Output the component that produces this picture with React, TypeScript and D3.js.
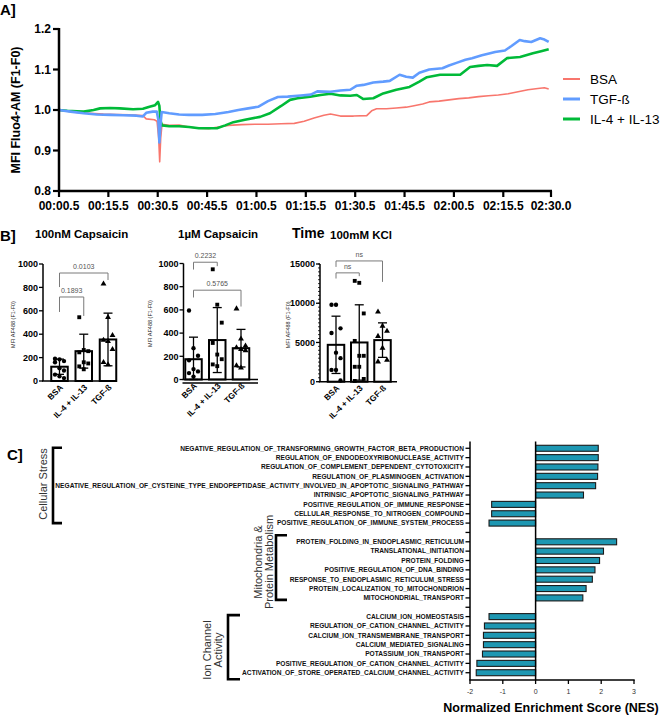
import React from "react";
import * as d3 from "d3";

const FONT = "'Liberation Sans', Arial, Helvetica, sans-serif";

// ---------- Panel A: Fluo4-AM calcium traces (time in s, normalised MFI) ----------
const bsaTrace: [number, number][] = [
  [0.5, 1.0], [3, 0.997], [6, 0.994], [10, 0.992], [14, 0.99], [18, 0.989], [22, 0.988],
  [26, 0.986], [27, 0.978], [29.5, 0.976], [30.3, 0.972], [30.8, 0.93], [31.1, 0.872],
  [31.4, 0.93], [31.8, 0.965], [34, 0.962], [37, 0.963], [40, 0.958], [43, 0.955],
  [46, 0.954], [49, 0.958], [52, 0.962], [56, 0.964], [60, 0.965], [64, 0.965],
  [68, 0.966], [72, 0.967], [75, 0.972], [78, 0.98], [81, 0.987], [83, 0.99], [86, 0.985],
  [90, 0.985], [94, 0.986], [95.5, 0.998], [97, 1.003], [100, 1.003], [103, 1.005],
  [106, 1.007], [108, 1.01], [111, 1.015], [113, 1.02], [116, 1.022], [119, 1.025],
  [122, 1.028], [125, 1.03], [128, 1.033], [131, 1.035], [134, 1.037], [137, 1.04],
  [140, 1.045], [143, 1.05], [146, 1.053], [148, 1.055], [149.3, 1.052],
];
const tgfTrace: [number, number][] = [
  [0.5, 1.0], [4, 0.996], [8, 0.992], [12, 0.989], [16, 0.988], [20, 0.987], [24, 0.986],
  [26, 0.984], [27, 0.993], [29, 0.996], [30.2, 0.996], [30.7, 0.975], [31, 0.92],
  [31.3, 0.96], [31.7, 0.995], [34, 0.992], [37, 0.989], [40, 0.988], [44, 0.988],
  [48, 0.99], [52, 0.995], [55, 1.0], [58, 1.004], [61, 1.008], [64, 1.022], [67, 1.032],
  [70, 1.033], [74, 1.036], [77, 1.038], [79, 1.046], [83, 1.045], [86, 1.048], [89, 1.05],
  [91, 1.06], [93, 1.062], [96, 1.068], [99, 1.07], [101, 1.072], [104, 1.087], [106, 1.082],
  [108, 1.08], [110, 1.092], [113, 1.1], [117, 1.103], [119, 1.11], [121.5, 1.117],
  [124, 1.124], [126, 1.128], [129, 1.135], [131.5, 1.14], [133, 1.143], [136, 1.147],
  [138, 1.158], [140.5, 1.173], [142, 1.17], [144, 1.168], [146.7, 1.177], [148, 1.174],
  [149.3, 1.168],
];
const ilTrace: [number, number][] = [
  [0.5, 1.0], [3, 0.998], [6, 0.997], [8, 0.996], [11, 1.0], [13, 1.004], [16, 1.005],
  [19, 1.004], [23, 1.002], [26, 1.003], [28, 1.008], [29.7, 1.012], [30.6, 1.02],
  [31, 1.01], [31.3, 0.975], [31.8, 0.962], [34, 0.96], [37, 0.96], [40, 0.958],
  [43, 0.955], [46, 0.955], [48.5, 0.955], [51, 0.962], [53.5, 0.97], [57, 0.976],
  [61.6, 0.983], [64.6, 0.992], [68, 1.01], [70.7, 1.025], [73, 1.029], [76.8, 1.033],
  [80, 1.037], [83, 1.04], [86, 1.036], [89, 1.035], [91, 1.037], [93, 1.027], [96, 1.029],
  [99, 1.041], [103, 1.05], [107, 1.057], [110, 1.07], [112.3, 1.081], [116.3, 1.087],
  [119, 1.087], [122.4, 1.087], [125.4, 1.106], [128, 1.109], [130.6, 1.111],
  [133.6, 1.109], [136.6, 1.128], [140.6, 1.131], [144.5, 1.14], [147, 1.145], [149.3, 1.15],
];
const timeTicks = [0.5, 15.5, 30.5, 45.5, 60.5, 75.5, 90.5, 105.5, 120.5, 135.5, 150];
const timeTickLabels = [
  "00:00.5", "00:15.5", "00:30.5", "00:45.5", "01:00.5", "01:15.5",
  "01:30.5", "01:45.5", "02:00.5", "02:15.5", "02:30.0",
];
const mfiTicks = [0.8, 0.9, 1.0, 1.1, 1.2];
const traceNames = ["BSA", "TGF-ß", "IL-4 + IL-13"];

// ---------- Panel B: stimulation responses ----------
const groups = ["BSA", "IL-4 + IL-13", "TGF-ß"];

const cap100Means = [122, 255, 355];
const cap100Sd = [65, 145, 225];
const cap100Bsa = [190, 185, 170, 160, 110, 90, 55, 40, 25];
const cap100Il = [545, 265, 255, 245, 160, 150, 125, 100];
const cap100Tgf = [830, 545, 390, 350, 340, 270, 160, 140];
const cap100Ticks = [0, 200, 400, 600, 800, 1000];

const cap1Means = [175, 340, 270];
const cap1Sd = [190, 280, 162];
const cap1Bsa = [595, 270, 205, 165, 90, 70, 55, 25];
const cap1Il = [950, 645, 490, 315, 215, 175, 130, 115];
const cap1Tgf = [610, 350, 290, 275, 260, 250, 120, 100];
const cap1Ticks = [0, 200, 400, 600, 800, 1000];

const kclMeans = [4700, 5000, 5300];
const kclSd = [3650, 4800, 2200];
const kclBsa = [9800, 9800, 6800, 6200, 3700, 3000, 1500, 1500, 150];
const kclIl = [12850, 12600, 8700, 5200, 3300, 3300, 1900, 1900, 350, 100];
const kclTgf = [8900, 7100, 6450, 5800, 4300, 2750, 2550];
const kclTicks = [0, 5000, 10000, 15000];

// comparison brackets: [from group, to group, bar level, left leg end, right leg end, p label]
const cap100Comparisons: [number, number, number, number, number, string][] = [
  [0, 2, 923, 803, 863, "0.0103"],
  [0, 1, 718, 590, 556, "0.1893"],
];
const cap1Comparisons: [number, number, number, number, number, string][] = [
  [0, 1, 1011, 948, 977, "0.2232"],
  [0, 2, 770, 707, 629, "0.5765"],
];
const kclComparisons: [number, number, number, number, number, string][] = [
  [0, 2, 15390, 14630, 12720, "ns"],
  [0, 1, 13870, 13150, 13450, "ns"],
];

// ---------- Panel C: GSEA normalised enrichment scores ----------
const nesTerms = [
  "NEGATIVE_REGULATION_OF_TRANSFORMING_GROWTH_FACTOR_BETA_PRODUCTION",
  "REGULATION_OF_ENDODEOXYRIBONUCLEASE_ACTIVITY",
  "REGULATION_OF_COMPLEMENT_DEPENDENT_CYTOTOXICITY",
  "REGULATION_OF_PLASMINOGEN_ACTIVATION",
  "NEGATIVE_REGULATION_OF_CYSTEINE_TYPE_ENDOPEPTIDASE_ACTIVITY_INVOLVED_IN_APOPTOTIC_SIGNALING_PATHWAY",
  "INTRINSIC_APOPTOTIC_SIGNALING_PATHWAY",
  "POSITIVE_REGULATION_OF_IMMUNE_RESPONSE",
  "CELLULAR_RESPONSE_TO_NITROGEN_COMPOUND",
  "POSITIVE_REGULATION_OF_IMMUNE_SYSTEM_PROCESS",
  "",
  "PROTEIN_FOLDING_IN_ENDOPLASMIC_RETICULUM",
  "TRANSLATIONAL_INITIATION",
  "PROTEIN_FOLDING",
  "POSITIVE_REGULATION_OF_DNA_BINDING",
  "RESPONSE_TO_ENDOPLASMIC_RETICULUM_STRESS",
  "PROTEIN_LOCALIZATION_TO_MITOCHONDRION",
  "MITOCHONDRIAL_TRANSPORT",
  "",
  "CALCIUM_ION_HOMEOSTASIS",
  "REGULATION_OF_CATION_CHANNEL_ACTIVITY",
  "CALCIUM_ION_TRANSMEMBRANE_TRANSPORT",
  "CALCIUM_MEDIATED_SIGNALING",
  "POTASSIUM_ION_TRANSPORT",
  "POSITIVE_REGULATION_OF_CATION_CHANNEL_ACTIVITY",
  "ACTIVATION_OF_STORE_OPERATED_CALCIUM_CHANNEL_ACTIVITY",
];
const nesScores: (number | null)[] = [
  1.91, 1.91, 1.9, 1.89, 1.83, 1.46, -1.34, -1.34, -1.42, null,
  2.47, 2.07, 1.95, 1.81, 1.73, 1.54, 1.44, null,
  -1.42, -1.56, -1.59, -1.59, -1.62, -1.79, -1.81,
];
const nesTicks = [-2, -1, 0, 1, 2, 3];
const categoryGroups = [
  { lines: ["Cellular Stress"], first: 0, last: 8 },
  { lines: ["Mitochondria &", "Protein Metabolism"], first: 10, last: 16 },
  { lines: ["Ion Channel", "Activity"], first: 18, last: 24 },
];

const TRACE_COLORS = ["#F8766D", "#619CFF", "#00BA38"];
const TRACE_WIDTHS = [1.6, 2.6, 2.6];
const NES_FILL = "#1d97b2";

type Cmp = [number, number, number, number, number, string];
interface BarCfg {
  axisX: number;
  y0: number;
  yTop: number;
  yMax: number;
  ticks: number[];
  minorStep?: number;
  centers: [number, number];
  axisEnd: number;
  doubleBase?: boolean;
  means: number[];
  sds: number[];
  points: number[][];
  comparisons: Cmp[];
  titleX: number;
}

function BarPanel({ cfg }: { cfg: BarCfg }) {
  const y = d3.scaleLinear().domain([0, cfg.yMax]).range([cfg.y0, cfg.yTop]);
  const x = d3.scalePoint<string>().domain(groups).range(cfg.centers);
  const bw = 16.5;
  const shapes = [d3.symbolCircle, d3.symbolSquare, d3.symbolTriangle];
  const sizes = [15, 15, 15];
  const minor = cfg.minorStep ? d3.range(0, cfg.yMax + 1, cfg.minorStep) : [];
  return (
    <g fontFamily={FONT}>
      {/* y axis */}
      <line x1={cfg.axisX} x2={cfg.axisX} y1={cfg.yTop} y2={cfg.y0} stroke="#000" strokeWidth={1.5} />
      {minor.map((v) => (
        <line key={"m" + v} x1={cfg.axisX - 2} x2={cfg.axisX} y1={y(v)} y2={y(v)} stroke="#000" strokeWidth={0.8} />
      ))}
      {cfg.ticks.map((t) => (
        <g key={t}>
          <line x1={cfg.axisX - 4} x2={cfg.axisX} y1={y(t)} y2={y(t)} stroke="#000" strokeWidth={1.3} />
          <text x={cfg.axisX - 5} y={y(t) + 3.2} textAnchor="end" fontSize={9} fontWeight="bold">
            {t}
          </text>
        </g>
      ))}
      <text
        transform={`translate(${cfg.titleX},${(cfg.yTop + cfg.y0) / 2 + 2}) rotate(-90)`}
        textAnchor="middle"
        dominantBaseline="central"
        fontSize={5.5}
        fill="#222"
      >
        MFI AF488 (F1-F0)
      </text>
      {/* bars */}
      {groups.map((g, i) => {
        const cx = x(g)!;
        return (
          <rect key={g} x={cx - bw / 2} y={y(cfg.means[i])} width={bw} height={cfg.y0 - y(cfg.means[i])}
            fill="#fff" stroke="#000" strokeWidth={2} />
        );
      })}
      {/* x axis */}
      <line x1={cfg.axisX - 1} x2={cfg.axisEnd} y1={cfg.y0} y2={cfg.y0} stroke="#000" strokeWidth={1.5} />
      {cfg.doubleBase && (
        <line x1={cfg.axisX - 1} x2={cfg.axisEnd} y1={cfg.y0 + 3.5} y2={cfg.y0 + 3.5} stroke="#000" strokeWidth={1.3} />
      )}
      {/* points */}
      {groups.map((g, i) =>
        cfg.points[i].map((v, j) => {
          const dx = ((j % 3) - 1) * 4.5;
          return (
            <path key={g + j} transform={`translate(${x(g)! + dx},${y(v)})`}
              d={d3.symbol().type(shapes[i]).size(sizes[i])()!} fill="#000" />
          );
        })
      )}
      {/* error bars (mean ± SD) */}
      {groups.map((g, i) => {
        const cx = x(g)!;
        const hi = y(cfg.means[i] + cfg.sds[i]);
        const lo = y(Math.max(0, cfg.means[i] - cfg.sds[i]));
        return (
          <g key={"e" + g} stroke="#000" strokeWidth={1.3}>
            <line x1={cx} x2={cx} y1={hi} y2={lo} />
            <line x1={cx - 4.5} x2={cx + 4.5} y1={hi} y2={hi} />
            <line x1={cx - 4.5} x2={cx + 4.5} y1={lo} y2={lo} />
          </g>
        );
      })}
      {/* x labels */}
      {groups.map((g) => (
        <text key={"l" + g} transform={`translate(${x(g)! + 4},${cfg.y0 + 7}) rotate(-45)`}
          textAnchor="end" fontSize={8.3} fontWeight="bold">
          {g}
        </text>
      ))}
      {/* comparisons */}
      {cfg.comparisons.map(([a, b, level, l1, l2, label], k) => {
        const xa = x(groups[a])!;
        const xb = x(groups[b])!;
        const yl = y(level);
        return (
          <g key={"c" + k}>
            <path d={`M${xa},${y(l1)}V${yl}H${xb}V${y(l2)}`} fill="none" stroke="#7a7a7a" strokeWidth={1} />
            <text x={(xa + xb) / 2} y={yl - 4} textAnchor="middle" fontSize={7} fill="#555">
              {label}
            </text>
          </g>
        );
      })}
    </g>
  );
}

export default function App() {
  // ----- Panel A -----
  const xA = d3.scaleLinear().domain([0.5, 150]).range([59, 551]);
  const yA = d3.scaleLinear().domain([0.8, 1.2]).range([191, 29]);
  const lineA = d3.line<[number, number]>().x((d) => xA(d[0])).y((d) => yA(d[1]));
  const traces = [bsaTrace, tgfTrace, ilTrace];
  const drawOrder = [0, 2, 1];

  // ----- Panel B -----
  const panels: BarCfg[] = [
    {
      axisX: 43, y0: 381, yTop: 264, yMax: 1000, ticks: cap100Ticks, centers: [59.5, 108],
      axisEnd: 117, means: cap100Means, sds: cap100Sd, points: [cap100Bsa, cap100Il, cap100Tgf],
      comparisons: cap100Comparisons, titleX: 13,
    },
    {
      axisX: 183.5, y0: 379.5, yTop: 263.5, yMax: 1000, ticks: cap1Ticks, centers: [193.5, 241],
      axisEnd: 258, doubleBase: true, means: cap1Means, sds: cap1Sd, points: [cap1Bsa, cap1Il, cap1Tgf],
      comparisons: cap1Comparisons, titleX: 150,
    },
    {
      axisX: 320, y0: 381.7, yTop: 264, yMax: 15000, ticks: kclTicks, minorStep: 500, centers: [336, 382.5],
      axisEnd: 397, means: kclMeans, sds: kclSd, points: [kclBsa, kclIl, kclTgf],
      comparisons: kclComparisons, titleX: 288,
    },
  ];

  // ----- Panel C -----
  const xC = d3.scaleLinear().domain([-2, 3]).range([470, 634]);
  const yC = d3.scaleBand<number>().domain(d3.range(nesTerms.length)).range([443.6, 677.4]);
  const rowY = (i: number) => yC(i)! + yC.bandwidth() / 2;
  const barH = 6;
  const groupLayout = [
    { bx: 53, bw: 9, top: rowY(0) - 0.5, bottom: rowY(8), labelX: [42.5], labelY: 484 },
    { bx: 276, bw: 11, top: rowY(10) - 6.5, bottom: rowY(16) + 2, labelX: [258, 269], labelY: 562 },
    { bx: 228, bw: 12, top: rowY(18) - 1.5, bottom: rowY(24) + 6.5, labelX: [207, 218], labelY: 650 },
  ];

  return (
    <svg width={661} height={717} viewBox="0 0 661 717"
      style={{ position: "absolute", left: 0, top: 0, background: "#fff" }} fontFamily={FONT}>
      <rect width={661} height={717} fill="#fff" />

      {/* ================= A ================= */}
      <text x={0} y={15} fontSize={15} fontWeight="bold">A]</text>
      <text transform={`translate(16,${yA(1.0)}) rotate(-90)`} textAnchor="middle" dominantBaseline="central"
        fontSize={12.5} fontWeight="bold">
        MFI Fluo4-AM (F1-F0)
      </text>
      {drawOrder.map((k) => (
        <path key={k} d={lineA(traces[k])!} fill="none" stroke={TRACE_COLORS[k]}
          strokeWidth={TRACE_WIDTHS[k]} strokeLinejoin="round" />
      ))}
      <line x1={59} x2={59} y1={yA(1.2) - 1} y2={yA(0.8)} stroke="#000" strokeWidth={2.5} />
      <line x1={58} x2={xA(150) + 1} y1={yA(0.8)} y2={yA(0.8)} stroke="#000" strokeWidth={2.5} />
      {mfiTicks.map((t) => (
        <g key={t}>
          <line x1={53} x2={59} y1={yA(t)} y2={yA(t)} stroke="#000" strokeWidth={2.2} />
          <text x={51} y={yA(t) + 4} textAnchor="end" fontSize={12} fontWeight="bold">
            {t.toFixed(1)}
          </text>
        </g>
      ))}
      {timeTicks.map((t, i) => (
        <g key={t}>
          <line x1={xA(t)} x2={xA(t)} y1={yA(0.8)} y2={yA(0.8) + 6} stroke="#000" strokeWidth={2.2} />
          <text x={xA(t)} y={210} textAnchor="middle" fontSize={12} fontWeight="bold">
            {timeTickLabels[i]}
          </text>
        </g>
      ))}
      {traceNames.map((n, i) => (
        <g key={n}>
          <line x1={563} x2={580} y1={79 + i * 20} y2={79 + i * 20} stroke={TRACE_COLORS[i]}
            strokeWidth={TRACE_WIDTHS[i] + 0.4} />
          <text x={590} y={79 + i * 20 + 4.5} fontSize={13.5}>{n}</text>
        </g>
      ))}

      {/* ================= B ================= */}
      <text x={0} y={241} fontSize={15} fontWeight="bold">B]</text>
      <text x={35} y={238} fontSize={11.5} fontWeight="bold">100nM Capsaicin</text>
      <text x={178} y={238} fontSize={11.5} fontWeight="bold">1µM Capsaicin</text>
      <text x={292} y={238} fontSize={14} fontWeight="bold">Time</text>
      <text x={330} y={239} fontSize={11.5} fontWeight="bold">100mM KCl</text>
      {panels.map((p, i) => (
        <BarPanel key={i} cfg={p} />
      ))}

      {/* ================= C ================= */}
      <text x={7} y={460} fontSize={15} fontWeight="bold">C]</text>
      {nesTerms.map((term, i) => (
        <g key={i}>
          <line x1={465.5} x2={470} y1={rowY(i)} y2={rowY(i)} stroke="#000" strokeWidth={1.3} />
          {term && (
            <text x={464} y={rowY(i) + 2.3} textAnchor="end" fontSize={6.6} fontWeight="bold" fill="#111">
              {term}
            </text>
          )}
        </g>
      ))}
      {nesScores.map((v, i) =>
        v === null ? null : (
          <rect key={"b" + i} x={Math.min(xC(0), xC(v))} y={rowY(i) - barH / 2}
            width={Math.abs(xC(v) - xC(0))} height={barH} fill={NES_FILL} stroke="#1a1a1a" strokeWidth={1.1} />
        )
      )}
      <line x1={xC(0)} x2={xC(0)} y1={441.5} y2={680} stroke="#000" strokeWidth={1.5} />
      <line x1={470} x2={470} y1={441.5} y2={680} stroke="#000" strokeWidth={1.5} />
      <line x1={469.3} x2={634.7} y1={680} y2={680} stroke="#000" strokeWidth={1.5} />
      {nesTicks.map((t) => (
        <g key={t}>
          <line x1={xC(t)} x2={xC(t)} y1={680} y2={684} stroke="#000" strokeWidth={1.3} />
          <text x={xC(t)} y={694} textAnchor="middle" fontSize={7} fill="#333">{t}</text>
        </g>
      ))}
      <text x={551} y={712} textAnchor="middle" fontSize={12.5} fontWeight="bold">
        Normalized Enrichment Score (NES)
      </text>
      {categoryGroups.map((g, k) => {
        const L = groupLayout[k];
        return (
          <g key={k}>
            <path d={`M${L.bx + L.bw},${L.top}H${L.bx}V${L.bottom}H${L.bx + L.bw}`} fill="none"
              stroke="#000" strokeWidth={2.6} />
            {g.lines.map((ln, j) => (
              <text key={j} transform={`translate(${L.labelX[j]},${L.labelY}) rotate(-90)`}
                textAnchor="middle" dominantBaseline="central" fontSize={11} fill="#333">
                {ln}
              </text>
            ))}
          </g>
        );
      })}
    </svg>
  );
}
